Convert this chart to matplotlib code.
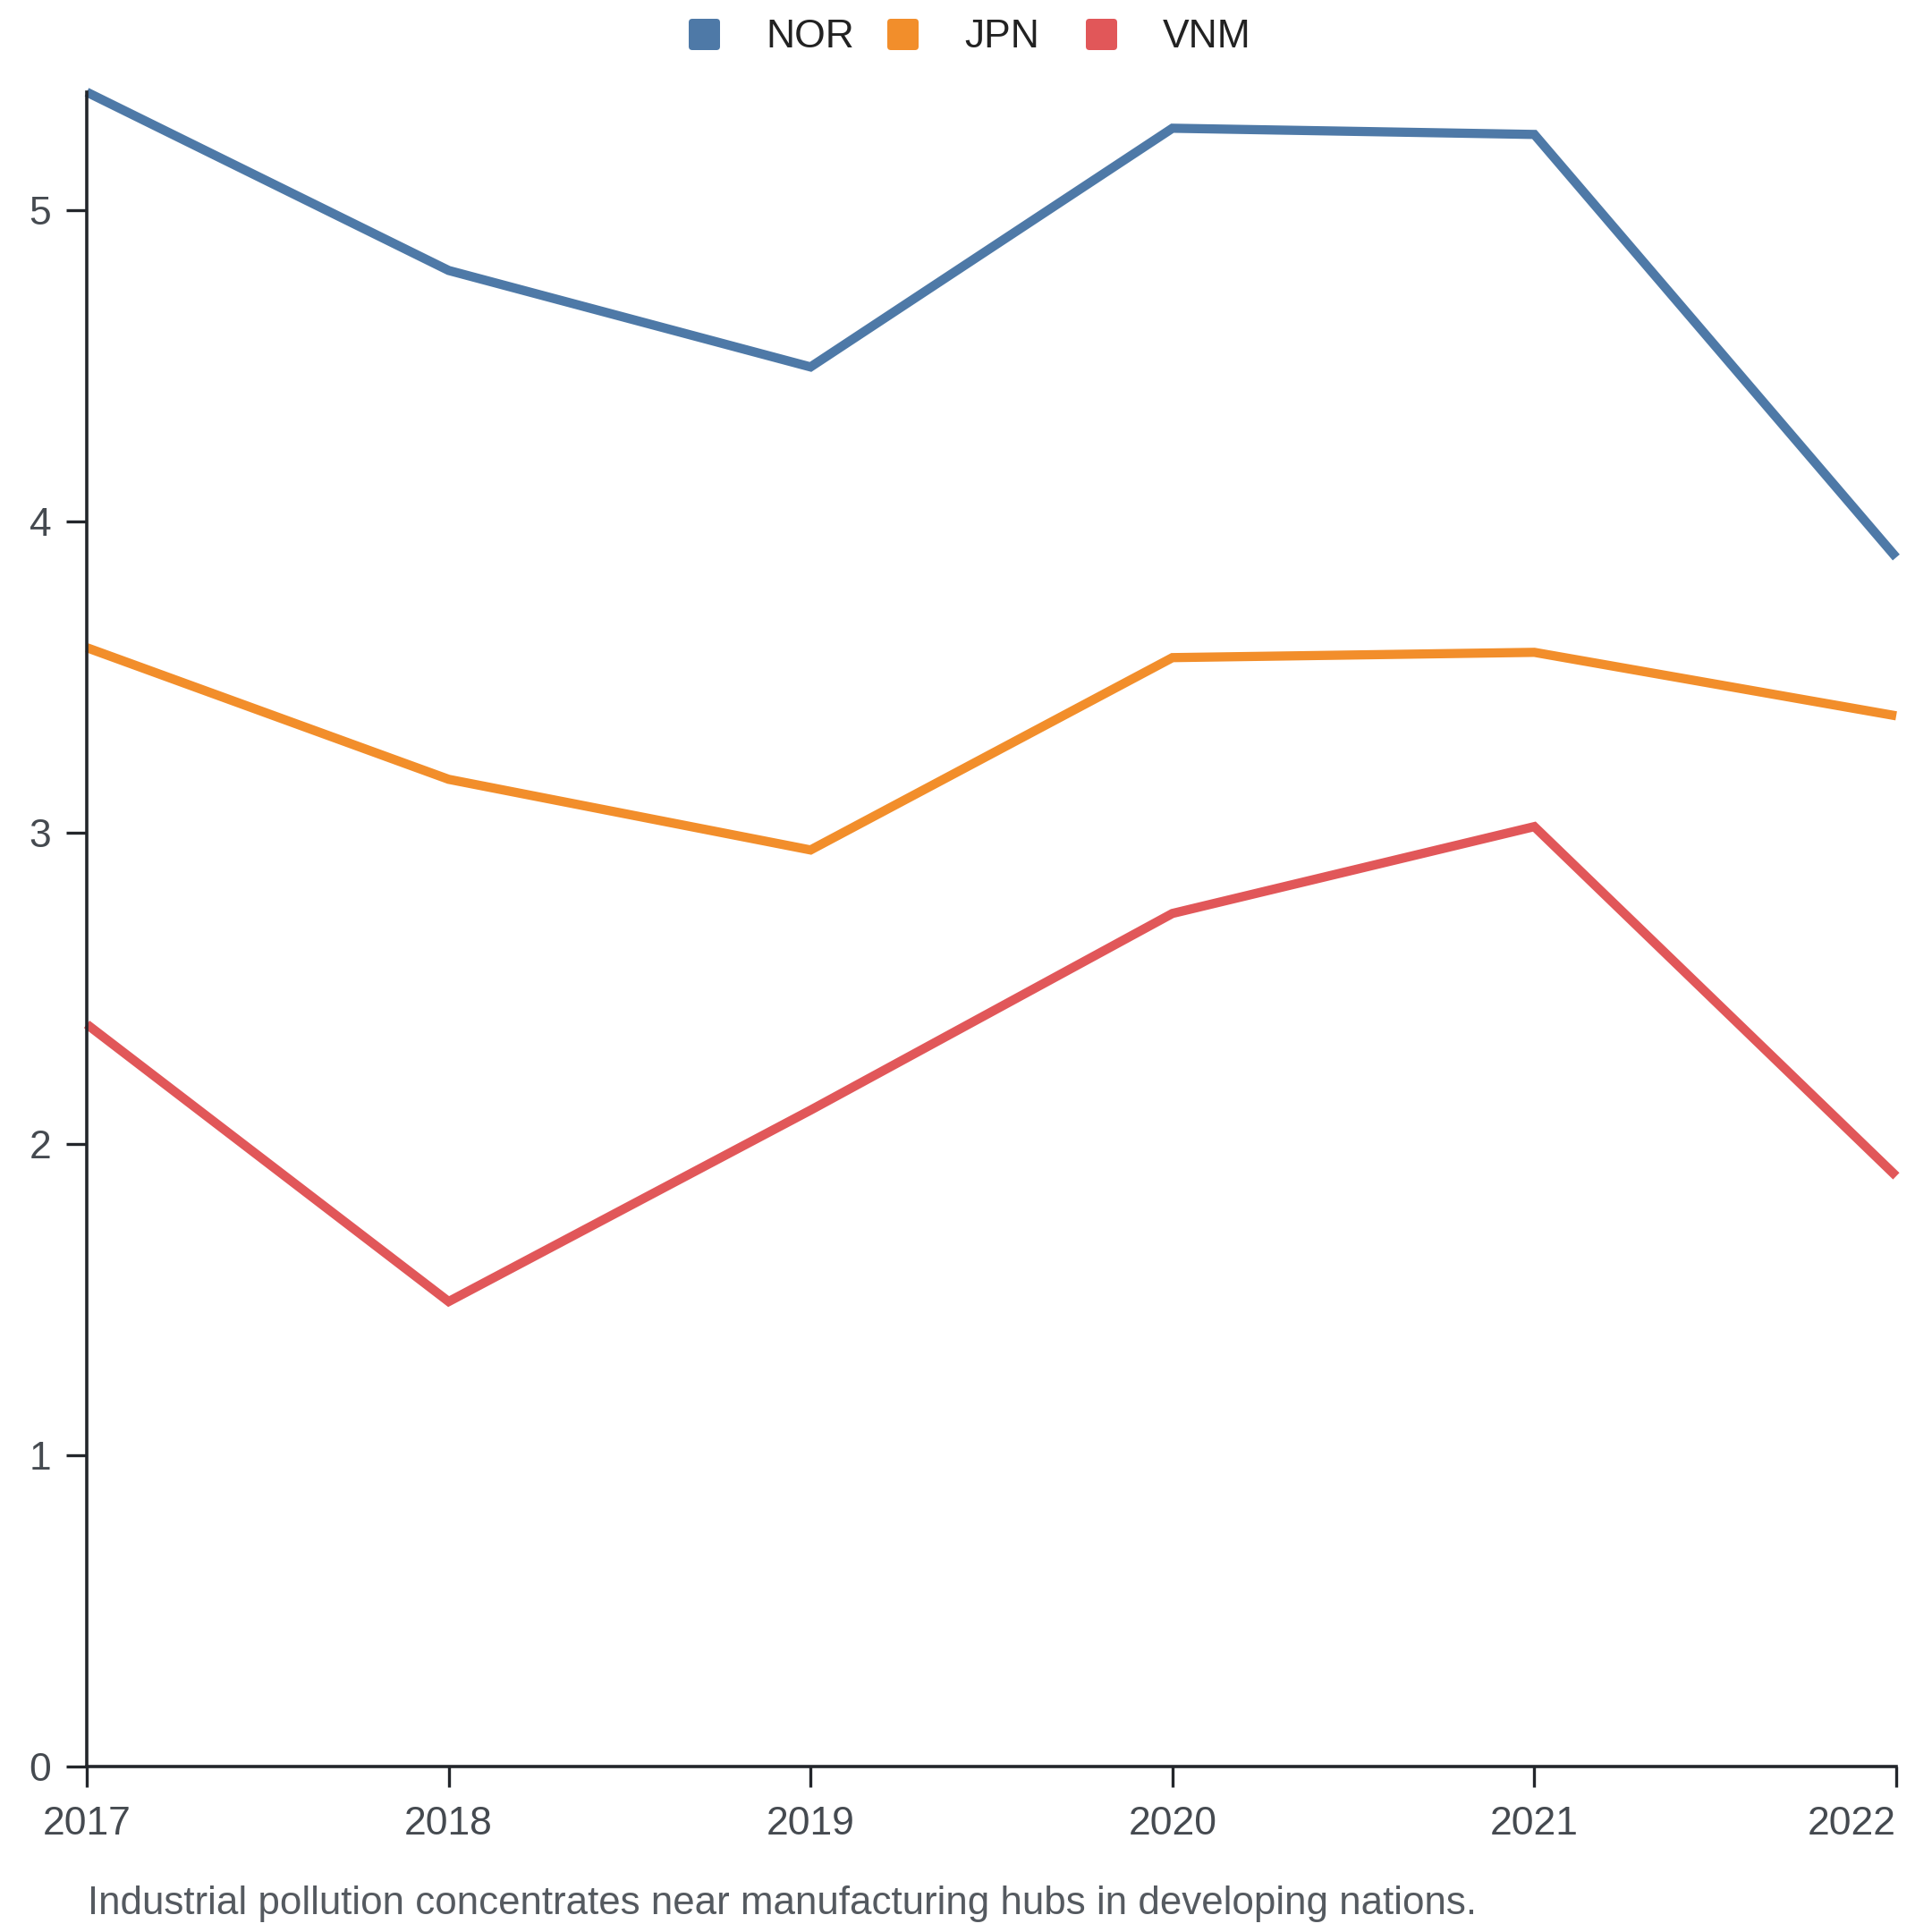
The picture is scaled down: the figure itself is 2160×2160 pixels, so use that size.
import matplotlib
matplotlib.use("Agg")
import matplotlib.pyplot as plt
from matplotlib.patches import FancyBboxPatch

years = [2017, 2018, 2019, 2020, 2021, 2022]
series_names = ["NOR", "JPN", "VNM"]
nor = [5.38, 4.807, 4.497, 5.264, 5.244, 3.885]
jpn = [3.595, 3.172, 2.945, 3.563, 3.580, 3.376]
vnm = [2.385, 1.494, 2.109, 2.741, 3.020, 1.897]
colors = ["#4e79a7", "#f28e2b", "#e15759"]
yticks = [0, 1, 2, 3, 4, 5]
caption = "Industrial pollution concentrates near manufacturing hubs in developing nations."

plt.rcParams['font.family'] = ['Liberation Sans', 'DejaVu Sans']

W = 2160
FS = 16
fig = plt.figure(figsize=(10.8, 10.8), dpi=200)
ax = fig.add_axes([97 / W, 1 - 1975 / W, (2120 - 97) / W, (1975 - 103) / W])

for name, vals, c in zip(series_names, [nor, jpn, vnm], colors):
    ax.plot(years, vals, color=c, lw=3.7, solid_capstyle='butt',
            solid_joinstyle='miter', clip_on=False, label=name)

ax.set_xlim(years[0], years[-1])
ax.set_ylim(0, max(nor + jpn + vnm))
ax.set_xticks(years)
ax.set_xticklabels([str(y) for y in years])
ax.set_yticks(yticks)
ax.set_yticklabels([str(t) for t in yticks])

for s in ['top', 'right']:
    ax.spines[s].set_visible(False)
for s in ['left', 'bottom']:
    ax.spines[s].set_color('#23262b')
    ax.spines[s].set_linewidth(1.3)

ax.tick_params(axis='both', length=8.3, width=1.2, color='#23262b',
               labelsize=FS, labelcolor='#454a50')
ax.tick_params(axis='x', pad=7.5)
ax.tick_params(axis='y', pad=6)
xl = ax.get_xticklabels()
xl[-1].set_horizontalalignment('right')
xl[-1].set_x(years[-1])

# legend: fixed-width items across the top
item_w = 222
sq = 35
x0 = 770
for i, (name, c) in enumerate(zip(series_names, colors)):
    left = x0 + i * item_w
    fig.patches.append(FancyBboxPatch(
        (left / W, 1 - 56 / W), sq / W, sq / W,
        boxstyle="round,pad=0,rounding_size=%f" % (4 / W),
        fc=c, ec='none', transform=fig.transFigure, figure=fig))
    fig.text((left + 86) / W, 1 - 53 / W, name, ha='left', va='baseline',
             fontsize=FS, color='#222222')

fig.text(98 / W, 1 - 2140 / W, caption, ha='left', va='baseline',
         fontsize=15.8, color='#555a60')

fig.savefig("out.png", dpi=200, facecolor='white')
